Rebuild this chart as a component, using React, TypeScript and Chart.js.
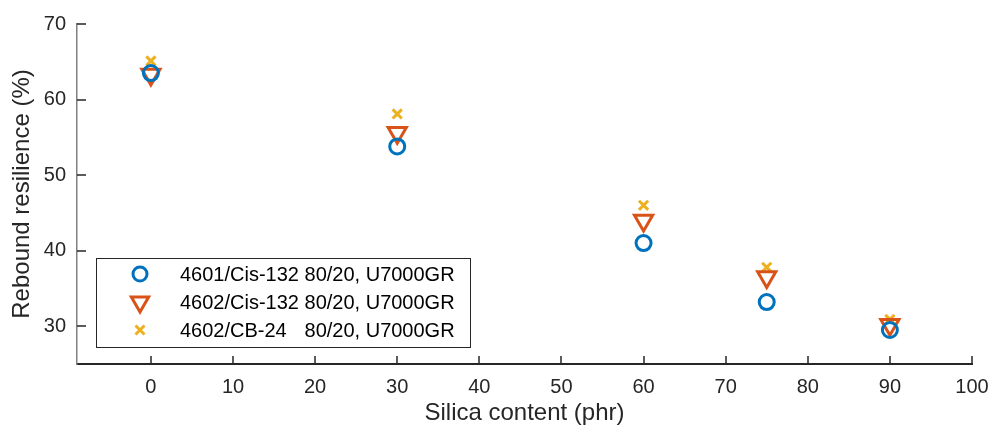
import React, { useEffect, useRef } from "react";
import { Chart, registerables } from "chart.js";

Chart.register(...registerables);

const silica = [0, 30, 60, 75, 90];
const cis4601 = [63.5, 53.8, 41.0, 33.2, 29.5];
const cis4602 = [63.3, 55.6, 44.0, 36.5, 30.2];
const cb4602 = [65.1, 58.1, 46.0, 37.8, 30.9];
const seriesLabels = [
  "4601/Cis-132 80/20, U7000GR",
  "4602/Cis-132 80/20, U7000GR",
  "4602/CB-24   80/20, U7000GR",
];
const xTicks = [0, 10, 20, 30, 40, 50, 60, 70, 80, 90, 100];
const yTicks = [30, 40, 50, 60, 70];

const FONT = "'Liberation Sans', Arial, Helvetica, sans-serif";

const tickPlugin = {
  id: "inwardTicks",
  afterDraw(chart: any) {
    const ctx = chart.ctx;
    const xs = chart.scales.x;
    const ys = chart.scales.y;
    const area = chart.chartArea;
    ctx.save();
    ctx.strokeStyle = "#262626";
    ctx.lineWidth = 1.5;
    ctx.beginPath();
    xTicks.forEach((v) => {
      const px = Math.round(xs.getPixelForValue(v));
      ctx.moveTo(px, area.bottom);
      ctx.lineTo(px, area.bottom - 8);
    });
    yTicks.forEach((v) => {
      const py = Math.round(ys.getPixelForValue(v));
      ctx.moveTo(area.left, py);
      ctx.lineTo(area.left + 9, py);
    });
    ctx.stroke();

    // legend
    const lx = 96, ly = 258, lw = 374, lh = 89;
    ctx.fillStyle = "#ffffff";
    ctx.fillRect(lx, ly, lw, lh);
    ctx.strokeStyle = "#262626";
    ctx.lineWidth = 1;
    ctx.strokeRect(lx + 0.5, ly + 0.5, lw, lh);
    ctx.font = `20px ${FONT}`;
    ctx.textBaseline = "middle";
    ctx.textAlign = "left";
    const rows = [274, 302, 330];
    const tx = 180;
    const col2 = tx + ctx.measureText("4601/Cis-132 ").width;
    chart.data.datasets.forEach((ds: any, i: number) => {
      const cy = rows[i];
      const cx = 140;
      ctx.strokeStyle = ds.borderColor;
      ctx.lineWidth = ds.borderWidth;
      ctx.beginPath();
      if (i === 0) {
        ctx.arc(cx, cy, 7, 0, Math.PI * 2);
      } else if (i === 1) {
        const r = 10;
        ctx.moveTo(cx - r * 0.866, cy - r * 0.5);
        ctx.lineTo(cx + r * 0.866, cy - r * 0.5);
        ctx.lineTo(cx, cy + r);
        ctx.closePath();
      } else {
        const r = 4.5;
        ctx.moveTo(cx - r, cy - r);
        ctx.lineTo(cx + r, cy + r);
        ctx.moveTo(cx + r, cy - r);
        ctx.lineTo(cx - r, cy + r);
      }
      ctx.stroke();
      ctx.fillStyle = "#000000";
      const parts = ds.label.split(/\s{2,}/);
      if (parts.length > 1) {
        ctx.fillText(parts[0], tx, cy + 1);
        ctx.fillText(parts[1], col2, cy + 1);
      } else {
        ctx.fillText(ds.label, tx, cy + 1);
      }
    });
    ctx.restore();
  },
};

export default function App() {
  const ref = useRef<HTMLCanvasElement>(null);
  useEffect(() => {
    if (!ref.current) return;
    const mk = (ys: number[]) => silica.map((x, i) => ({ x, y: ys[i] }));
    const chart = new Chart(ref.current, {
      type: "scatter",
      data: {
        datasets: [
          {
            label: seriesLabels[0],
            data: mk(cis4601),
            pointStyle: "circle",
            pointRadius: 7.5,
            borderColor: "#0072BD",
            backgroundColor: "rgba(0,0,0,0)",
            borderWidth: 3,
          },
          {
            label: seriesLabels[1],
            data: mk(cis4602),
            pointStyle: "triangle",
            pointRotation: 180,
            pointRadius: 10.5,
            borderColor: "#D95319",
            backgroundColor: "rgba(0,0,0,0)",
            borderWidth: 3,
          },
          {
            label: seriesLabels[2],
            data: mk(cb4602),
            pointStyle: "crossRot",
            pointRadius: 6.5,
            borderColor: "#EDB120",
            backgroundColor: "#EDB120",
            borderWidth: 3,
          },
        ],
      },
      options: {
        animation: false,
        responsive: false,
        maintainAspectRatio: false,
        layout: { padding: { top: 24, right: 18, left: 0, bottom: 0 } },
        plugins: {
          legend: { display: false },
          tooltip: { enabled: false },
        },
        scales: {
          x: {
            type: "linear",
            min: -9,
            max: 100,
            afterFit: (s: any) => {
              s.height = 64;
              s.paddingLeft = 0;
              s.paddingRight = 0;
            },
            afterBuildTicks: (s: any) => {
              s.ticks = xTicks.map((v) => ({ value: v }));
            },
            grid: { display: false, drawTicks: false },
            border: { display: true, color: "#262626", width: 2 },
            ticks: {
              color: "#262626",
              font: { family: FONT, size: 20 },
              padding: 11,
              maxRotation: 0,
            },
            title: {
              display: true,
              text: "Silica content (phr)",
              color: "#262626",
              font: { family: FONT, size: 24 },
              padding: { top: 3, bottom: 0 },
            },
          },
          y: {
            type: "linear",
            min: 25,
            max: 70,
            afterFit: (s: any) => {
              s.width = 77;
              s.paddingTop = 0;
              s.paddingBottom = 0;
            },
            afterBuildTicks: (s: any) => {
              s.ticks = yTicks.map((v) => ({ value: v }));
            },
            grid: { display: false, drawTicks: false },
            border: { display: true, color: "#808080", width: 1.5 },
            ticks: {
              color: "#262626",
              font: { family: FONT, size: 20 },
              padding: 11,
            },
            title: {
              display: true,
              text: "Rebound resilience (%)",
              color: "#262626",
              font: { family: FONT, size: 24 },
              padding: { top: 8, bottom: 0 },
            },
          },
        },
      },
      plugins: [tickPlugin],
    });
    return () => chart.destroy();
  }, []);
  return (
    <div style={{ position: "fixed", left: 0, top: 0, width: 990, height: 428, background: "#fff" }}>
      <canvas ref={ref} width={990} height={428} style={{ width: 990, height: 428 }} />
    </div>
  );
}
